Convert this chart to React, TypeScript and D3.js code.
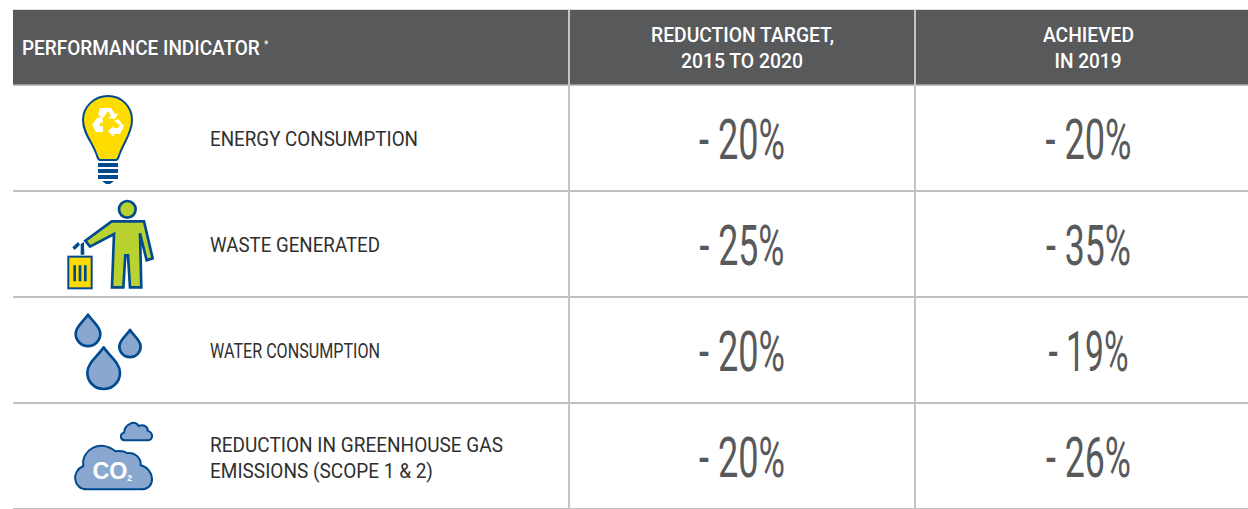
import React from 'react'
import * as d3 from 'd3'

const indicators = [['ENERGY CONSUMPTION'], ['WASTE GENERATED'], ['WATER CONSUMPTION'], ['REDUCTION IN GREENHOUSE GAS', 'EMISSIONS (SCOPE 1 & 2)']]
const targets = ['- 20%', '- 25%', '- 20%', '- 20%']
const achieved = ['- 20%', '- 35%', '- 19%', '- 26%']
const labelWidths = [[208], [170], [170], [293, 223]]
const targetWidths = [86, 85, 86, 86]
const achievedWidths = [86, 85, 80, 85]
const rowKeys = ['energy', 'waste', 'water', 'co2']

const w = 1248
const h = 509
const grey = '#58595b'
const lineGrey = '#adadad'
const navy = '#004a8f'
const steel = '#8aa8cf'
const font = 'Roboto, sans-serif'

const y = d3.scaleBand().domain(rowKeys).range([85, 509])
const colX = [13, 569, 915, 1248]

// icons are traced in 3x crop coordinates, so they get scaled down
const Bulb = () => (
  <g>
    <path d="M108 96 C122 96 132 107 132 120 C132 133 124 142 120 153 C118 158 118 160 116 160 L100 160 C98 160 98 158 96 153 C92 142 83 133 83 120 C83 107 94 96 108 96 Z" fill="#ffdc00" stroke={navy} strokeWidth={2} />
    <path d="M98 163 H118 V167 H98 Z M98 169 H118 V173 H98 Z M98 175 H118 V179 H98 Z M102 181 H114 L110 184 H106 Z" fill={navy} />
    <path d="M100 108 H111 L115 114 L118 113 L115 119 L108 118 L111 116 L108 111 L103 118 L98 115 Z M97 118 L92 125 L96 132 H103 V126 H99 L101 122 L103 123 L102 117 Z M118 119 L124 126 L120 134 H114 V137 L108 131 L114 126 V128 H118 L120 125 L114 121 Z" fill="#fff" />
  </g>
)

const Person = () => (
  <g transform="translate(40,190) scale(0.3333)">
    <circle cx={262} cy={58} r={25} fill="#b9d22f" stroke={navy} strokeWidth={8} />
    <path d="M215 94 L312 94 L338 205 L320 211 L300 130 L304 292 L270 292 L264 196 L256 196 L250 292 L216 292 L222 132 L150 170 L136 152 Z" fill="#b9d22f" stroke={navy} strokeWidth={8} strokeLinejoin="miter" />
    <path d="M97 172 L114 156 L120 164 L104 180 Z M122 162 L132 156 L133 194 L122 194 Z" fill={navy} />
    <rect x={85} y={200} width={70} height={95} fill="#ffdc00" stroke={navy} strokeWidth={6} />
    <path d="M100 226 H108 V274 H100 Z M116 226 H124 V274 H116 Z M132 226 H140 V274 H132 Z" fill={navy} />
  </g>
)

const dropPath = (cx: number, tip: number, r: number) => {
  const cy = tip + r * 1.55
  return `M${cx} ${tip} C${cx + r * 0.35} ${tip + r * 0.55} ${cx + r} ${cy - r * 0.6} ${cx + r} ${cy} A${r} ${r} 0 1 1 ${cx - r} ${cy} C${cx - r} ${cy - r * 0.6} ${cx - r * 0.35} ${tip + r * 0.55} ${cx} ${tip} Z`
}

const Drops = () => (
  <g transform="translate(40,300) scale(0.3333)" fill={steel} stroke={navy} strokeWidth={8} strokeLinejoin="round">
    <path d={dropPath(144, 44, 37)} />
    <path d={dropPath(270, 90, 32)} />
    <path d={dropPath(191, 142, 49)} />
  </g>
)

const Clouds = () => (
  <g transform="translate(40,300) scale(0.3333)" fill={steel} stroke={navy} strokeWidth={6} strokeLinejoin="round">
    <path d="M256 421 C240 421 238 402 252 398 C254 372 286 358 296 378 C312 370 326 384 322 392 C342 398 340 421 322 421 Z" />
    <path d="M140 568 C100 568 92 514 130 498 C122 450 182 416 226 454 C240 452 254 454 262 460 C284 456 304 474 302 496 C344 506 350 568 304 568 Z" />
    <text x={210} y={537} textAnchor="middle" fill="#fff" stroke="none" fontFamily="Liberation Sans, Arial, sans-serif" fontWeight={700} fontSize={70}>CO</text>
    <text x={269} y={542} textAnchor="middle" fill="#fff" stroke="none" fontFamily="Liberation Sans, Arial, sans-serif" fontWeight={700} fontSize={26}>2</text>
  </g>
)

const icons = [Bulb, Person, Drops, Clouds]

const headerText = (text: string, x: number, yy: number, len: number, anchor: string = 'middle') => (
  <text key={text} x={x} y={yy} textAnchor={anchor} fontFamily={font} fontWeight={500} fontSize={20} fill="#fff" textLength={len} lengthAdjust="spacingAndGlyphs">{text}</text>
)

export default function App() {
  const rows = rowKeys.map((k, i) => ({ k, i, top: y(k) as number, mid: (y(k) as number) + y.bandwidth() / 2 }))
  const midTarget = (colX[1] + colX[2]) / 2
  const midAchieved = (colX[2] + colX[3]) / 2 + 7

  return (
    <svg width={w} height={h} style={{ position: 'absolute', left: 0, top: 0, background: '#fff' }}>
      <line x1={13} x2={w} y1={9.5} y2={9.5} stroke="#dcdcdc" />
      <rect x={colX[0]} y={10} width={w - colX[0]} height={75} fill={grey} />
      <text transform="translate(22,55) scale(0.95,1)" fontFamily={font} fontWeight={500} fontSize={20} fill="#fff">PERFORMANCE INDICATOR</text>
      <text x={264} y={48} fontFamily={font} fontSize={10} fill="#fff">*</text>
      {headerText('REDUCTION TARGET,', 742.5, 42, 183)}
      {headerText('2015 TO 2020', 742, 68, 122)}
      {headerText('ACHIEVED', 1088.5, 42, 91)}
      {headerText('IN 2019', 1088, 68, 67)}

      {rows.map(r => {
        const Icon = icons[r.i]
        const lines = indicators[r.i]
        return (
          <g key={r.k}>
            <Icon />
            {lines.map((t, j) => (
              <text key={t} x={210} y={r.mid + 8 - (lines.length - 1) * 13 + j * 26 + (lines.length > 1 ? 1 : 0)} fontFamily={font} fontWeight={400} fontSize={20} fill="#2f2f2f" textLength={labelWidths[r.i][j]} lengthAdjust="spacingAndGlyphs">{t}</text>
            ))}
            <text x={midTarget} y={r.mid + 21} textAnchor="middle" fontFamily={font} fontWeight={400} fontSize={56} fill={grey} textLength={targetWidths[r.i]} lengthAdjust="spacingAndGlyphs">{targets[r.i]}</text>
            <text x={midAchieved} y={r.mid + 21} textAnchor="middle" fontFamily={font} fontWeight={400} fontSize={56} fill={grey} textLength={achievedWidths[r.i]} lengthAdjust="spacingAndGlyphs">{achieved[r.i]}</text>
            <line x1={13} x2={w} y1={r.top + y.bandwidth()} y2={r.top + y.bandwidth()} stroke={lineGrey} strokeWidth={1.5} />
          </g>
        )
      })}

      <line x1={13} x2={w} y1={85} y2={85} stroke={lineGrey} strokeWidth={1.5} />
      {[colX[1], colX[2]].map(x => (
        <line key={x} x1={x} x2={x} y1={10} y2={h} stroke="#c4c4c4" strokeWidth={2} />
      ))}
    </svg>
  )
}
